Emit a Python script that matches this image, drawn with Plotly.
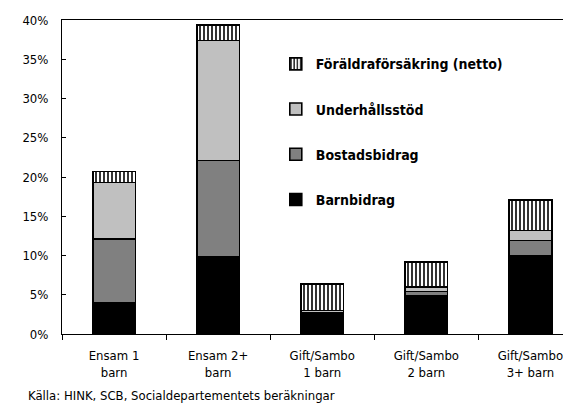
import plotly.graph_objects as go

categories = ["Ensam 1<br>barn", "Ensam 2+<br>barn", "Gift/Sambo<br>1 barn",
              "Gift/Sambo<br>2 barn", "Gift/Sambo<br>3+ barn"]
barnbidrag = [4.0, 9.8, 2.4, 4.85, 9.95]
bostadsbidrag = [8.1, 12.3, 0.3, 0.55, 1.95]
underhallsstod = [7.2, 15.3, 0.3, 0.6, 1.3]
foraldraforsakring = [1.4, 2.0, 3.4, 3.2, 3.9]
y_ticks = [0, 5, 10, 15, 20, 25, 30, 35, 40]
source_text = "Källa: HINK, SCB, Socialdepartementets beräkningar"

FONT = "Liberation Sans Narrow, DejaVu Sans Condensed, Arial Narrow, sans-serif"

fig = go.Figure()
series = [
    ("Barnbidrag", barnbidrag, dict(color="#000000"), 4),
    ("Bostadsbidrag", bostadsbidrag, dict(color="#808080"), 3),
    ("Underhållsstöd", underhallsstod, dict(color="#c0c0c0"), 2),
    ("Föräldraförsäkring (netto)", foraldraforsakring,
     dict(color="#ffffff", pattern=dict(shape="|", fgcolor="#000000", bgcolor="#ffffff",
                                        size=4, solidity=0.4, fillmode="replace")), 1),
]
for name, vals, mk, rank in series:
    fig.add_trace(go.Bar(
        x=categories, y=vals, name=name, legendgroup=name, legendrank=rank,
        width=0.41,
        marker=dict(**mk, line=dict(color="#000000", width=1.6)),
    ))

# The page body has an 8px margin, so the figure is sized 8px smaller on each axis.
fig.update_layout(
    barmode="stack",
    width=563, height=397,
    margin=dict(l=54, r=0, t=12, b=71),
    paper_bgcolor="white", plot_bgcolor="white",
    font=dict(family=FONT, size=13, color="#000000"),
    showlegend=True,
    legend=dict(
        x=0.42, y=0.91, xanchor="left", yanchor="top",
        traceorder="grouped", tracegroupgap=24,
        font=dict(family=FONT, size=14, color="#000000", weight="bold"),
        bgcolor="rgba(0,0,0,0)", borderwidth=0,
    ),
    xaxis=dict(
        range=[-0.5, 4.39],
        showline=True, linecolor="#000000", linewidth=1, mirror=True,
        ticks="outside", tickson="boundaries", ticklen=5, tickcolor="#000000",
        showgrid=False, tickfont=dict(size=13), ticklabelstandoff=9,
    ),
    yaxis=dict(
        range=[0, 40],
        tickvals=y_ticks, ticktext=[f"{v}%" for v in y_ticks],
        showline=True, linecolor="#000000", linewidth=1,
        ticks="inside", ticklen=4, tickcolor="#000000",
        showgrid=False, zeroline=False, ticklabelstandoff=10,
        tickfont=dict(size=13),
    ),
    annotations=[dict(
        text=source_text, xref="paper", yref="paper",
        x=-36 / 509, y=-61 / 314, xanchor="left", yanchor="middle",
        showarrow=False, font=dict(family=FONT, size=13, color="#000000"),
    )],
)

fig.write_html("out.html")
